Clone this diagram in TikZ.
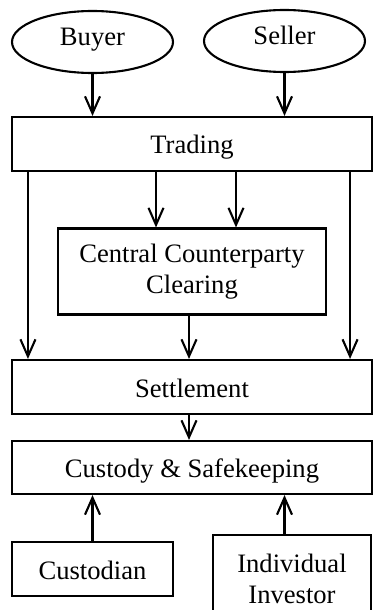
\documentclass[tikz,border=0pt]{standalone}
\usepackage{fontspec}
\setmainfont{Liberation Serif}
\usetikzlibrary{arrows.meta,shapes.geometric}

\begin{document}
\begin{tikzpicture}[x=0.5pt,y=-0.5pt,>={Straight Barb[length=8.5pt,width=7.5pt]},line width=1.05pt,
    party node/.style={ellipse,draw,inner sep=0pt,minimum width=80.5pt,minimum height=31pt,text height=6pt,text depth=2.5pt,font=\fontsize{13.3}{15.5}\selectfont},
    stage node/.style={rectangle,draw,inner sep=0pt,align=center,font=\fontsize{13.3}{15.5}\selectfont},
    one line/.style={text height=10pt,text depth=0pt}]
            \useasboundingbox (0,0) rectangle (373,610);
            \node[party node] (buyer) at (92.5,42) {Buyer};
            \node[party node] (seller) at (284.5,41) {Seller};
            \node[stage node,one line,minimum width=180pt,minimum height=27pt] (trading) at (192,144) {Trading};
            \node[stage node,minimum width=134pt,minimum height=43pt] (ccp) at (192,271.5) {Central Counterparty\\Clearing};
            \node[stage node,one line,minimum width=180pt,minimum height=27pt] (settlement) at (192,387) {Settlement};
            \node[stage node,one line,minimum width=180pt,minimum height=26.5pt] (custody) at (192,467.5) {Custody \& Safekeeping};
            \node[stage node,one line,minimum width=80.5pt,minimum height=27pt] (custodian) at (92.5,569) {Custodian};
            \node[stage node,minimum width=79pt,minimum height=43.5pt] (investor) at (292,578.5) {Individual\\Investor};

            \path[->]
                (buyer) edge (trading.north -| buyer)
                (seller) edge (trading.north -| seller)
                ([xshift=-18pt]trading.south) edge ([xshift=-18pt]ccp.north)
                ([xshift=22pt]trading.south) edge ([xshift=22pt]ccp.north)
                ([xshift=8.5pt]trading.south west) edge ([xshift=8.5pt]settlement.north west)
                ([xshift=-11.5pt]trading.south east) edge ([xshift=-11.5pt]settlement.north east)
                ([xshift=-1.5pt]ccp.south) edge ([xshift=-1.5pt]settlement.north)
                ([xshift=-1.5pt]settlement.south) edge ([xshift=-1.5pt]custody.north)
                (custodian) edge (custody.south -| custodian)
                (investor.north -| seller) edge (custody.south -| seller)
                ;
        \end{tikzpicture}
\end{document}
